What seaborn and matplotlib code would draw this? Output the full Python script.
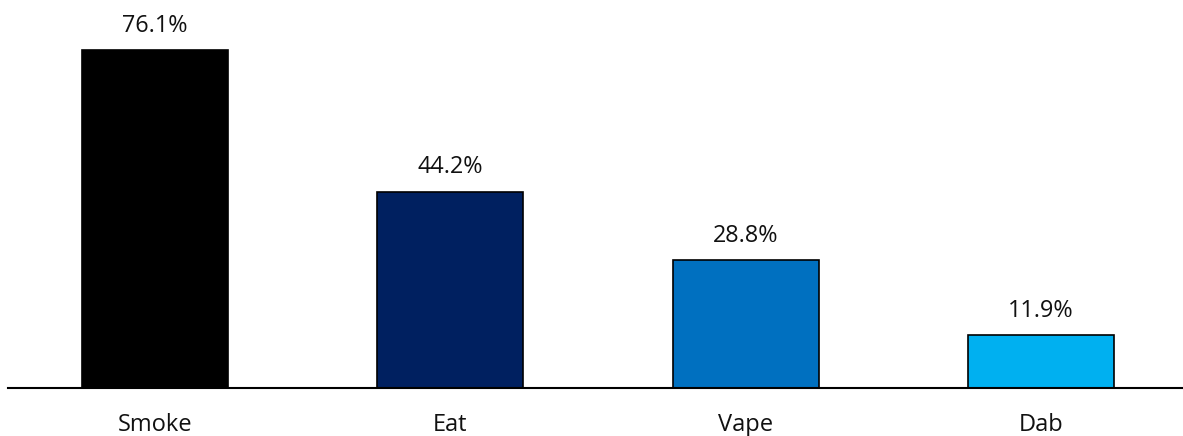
import matplotlib
matplotlib.use("Agg")
import matplotlib.pyplot as plt
import seaborn as sns
import pandas as pd

methods = ["Smoke", "Eat", "Vape", "Dab"]
shares = [76.1, 44.2, 28.8, 11.9]
colors = ["#000000", "#002060", "#0070C0", "#00B0F0"]

sns.set_theme(style="white")
plt.rcParams["font.family"] = ["Open Sans", "DejaVu Sans"]

df = pd.DataFrame({"method": methods, "share": shares})

fig = plt.figure(figsize=(11.83, 4.36), dpi=100)
ax = fig.add_axes([8 / 1183, 48 / 436, 1 - 8 / 1183, (388 - 10.6) / 436])

sns.barplot(data=df, x="method", y="share", hue="method", palette=colors,
            order=methods, hue_order=methods, width=0.494, dodge=False,
            saturation=1, edgecolor="black", linewidth=1.2, legend=False, ax=ax)

for i, v in enumerate(shares):
    ax.annotate(f"{v:.1f}%", (i, v), xytext=(0, 9), textcoords="offset points",
                ha="center", va="bottom", fontsize=16.8, color="#111111")

ax.set_xlim(-0.497, 3.48)
ax.set_ylim(0, 85)
ax.set_xlabel("")
ax.set_ylabel("")
ax.set_yticks([])
ax.tick_params(axis="x", length=0, pad=18, labelsize=17, labelcolor="#111111")
for side in ["left", "right", "top"]:
    ax.spines[side].set_visible(False)
ax.spines["bottom"].set_color("black")
ax.spines["bottom"].set_linewidth(1.5)

fig.savefig("out.png", dpi=100)
